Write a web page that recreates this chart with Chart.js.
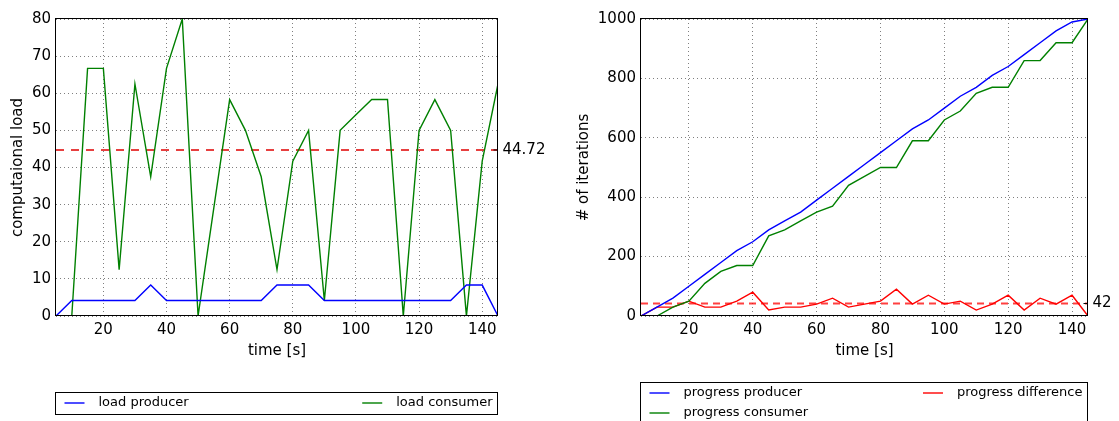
<!DOCTYPE html>
<html><head><meta charset="utf-8">
<script src="https://cdn.jsdelivr.net/npm/chart.js@4.4.0/dist/chart.umd.min.js"></script>
<style>
html,body{margin:0;padding:0;background:#fff;overflow:hidden}
#wrap{position:relative;width:1119px;height:421px;background:#fff}
canvas{position:absolute;top:0}
#c1{left:0;width:560px;height:421px}
#c2{left:560px;width:559px;height:421px}
</style></head><body>
<div id="wrap"><canvas id="c1" width="560" height="421"></canvas><canvas id="c2" width="559" height="421"></canvas></div>
<script>
// ---- data ----
const timeS = [5,10,15,20,25,30,35,40,45,50,55,60,65,70,75,80,85,90,95,100,105,110,115,120,125,130,135,140,145];
const loadProducer = [0,4.17,4.17,4.17,4.17,4.17,8.33,4.17,4.17,4.17,4.17,4.17,4.17,4.17,8.33,8.33,8.33,4.17,4.17,4.17,4.17,4.17,4.17,4.17,4.17,4.17,8.33,8.33,0];
const loadConsumer = [0,0,66.7,66.7,12.5,62.5,37.5,66.7,80,0,29.2,58.3,50,37.5,12.5,41.7,50,4.17,50,54.2,58.3,58.3,0,50,58.3,50,0,41.7,62.5];
const progressProducer = [0,30,60,100,140,180,220,250,290,320,350,390,430,470,510,550,590,630,660,700,740,770,810,840,880,920,960,990,1000];
const progressConsumer = [0,0,30,50,110,150,170,170,270,290,320,350,370,440,470,500,500,590,590,660,690,750,770,770,860,860,920,920,1000];
const progressDifference = [0,30,30,50,30,30,50,80,20,30,30,40,60,30,40,50,90,40,70,40,50,20,40,70,20,60,40,70,0];
const meanLoad = 44.72;
const meanDiff = 42;
const xTicks = [20,40,60,80,100,120,140];
const loadTicks = [0,10,20,30,40,50,60,70,80];
const iterTicks = [0,200,400,600,800,1000];
const xRange = [5,145];

const FONT = '"DejaVu Sans", "Liberation Sans", sans-serif';
Chart.defaults.font.family = FONT;
Chart.defaults.font.size = 15;
Chart.defaults.color = '#000';

const pts = (vals) => timeS.map((t,i) => ({x:t, y:vals[i]}));
const flat = (v) => [{x:xRange[0], y:v},{x:xRange[1], y:v}];

const decor = {
  id: 'decor',
  afterDatasetsDraw(chart, args, o) {
    const {ctx, chartArea:a, scales:{y}} = chart;
    ctx.save();
    ctx.strokeStyle = '#000'; ctx.lineWidth = 1;
    const l = Math.round(a.left)-0.5, t = Math.round(a.top)-0.5, r = Math.round(a.right)-0.5, b = Math.round(a.bottom)-0.5;
    ctx.strokeRect(l, t, r-l, b-t);
    const py = y.getPixelForValue(o.mean);
    ctx.beginPath(); ctx.moveTo(r-4, py); ctx.lineTo(r, py); ctx.stroke();
    ctx.fillStyle = '#000'; ctx.font = '15px ' + FONT;
    ctx.textAlign = 'left'; ctx.textBaseline = 'middle';
    ctx.fillText(o.meanLabel, r + 5, py);
    ctx.restore();
  },
  afterDraw(chart, args, o) {
    const {ctx, chartArea:a} = chart;
    const items = chart.data.datasets.filter(d => !d.isMean);
    const rows = Math.ceil(items.length/2);
    const l = Math.round(a.left)-0.5, r = Math.round(a.right)-0.5;
    const top = o.legendTop;
    ctx.save();
    ctx.strokeStyle = '#000'; ctx.lineWidth = 1;
    ctx.strokeRect(l, top, r-l, rows*20 + 2);
    ctx.font = '13px ' + FONT; ctx.textBaseline = 'middle'; ctx.textAlign = 'left';
    items.forEach((d,i) => {
      const col = Math.floor(i/rows), row = i % rows;
      const yy = top + 10.5 + row*20;
      let tx;
      if (col === 0) tx = l + 43;
      else tx = r - 5 - ctx.measureText(d.label).width;
      ctx.strokeStyle = d.borderColor; ctx.lineWidth = 1.4;
      ctx.beginPath(); ctx.moveTo(tx-34, yy); ctx.lineTo(tx-14, yy); ctx.stroke();
      ctx.fillStyle = '#000';
      ctx.fillText(d.label, tx, yy);
    });
    ctx.restore();
  }
};

function makeChart(id, datasets, yTicks, yMax, yTitle, yWidth, yTitlePad, padRight, mean, meanLabel, legendTop) {
  return new Chart(document.getElementById(id), {
    type: 'line',
    data: { datasets },
    plugins: [decor],
    options: {
      responsive: false, animation: false, devicePixelRatio: 1,
      layout: { padding: { top: 19, right: padRight, bottom: 61, left: 0 } },
      elements: { point: { radius: 0 }, line: { tension: 0, borderWidth: 1.4 } },
      plugins: { legend: { display: false }, tooltip: { enabled: false },
        decor: { mean, meanLabel, legendTop } },
      scales: {
        x: {
          type: 'linear', min: xRange[0], max: xRange[1],
          afterBuildTicks: s => { s.ticks = xTicks.map(v => ({value: v})); },
          ticks: { autoSkip: false, maxRotation: 0, padding: 5, font: { size: 15 }, callback: v => String(v) },
          grid: { color: 'rgba(0,0,0,0.5)', lineWidth: 1, drawTicks: false },
          border: { display: false, dash: [1,3] },
          title: { display: true, text: 'time [s]', font: { size: 15 }, padding: { top: -2, bottom: 0 } }
        },
        y: {
          type: 'linear', min: 0, max: yMax,
          afterBuildTicks: s => { s.ticks = yTicks.map(v => ({value: v})); },
          afterFit: s => { s.width = yWidth; },
          ticks: { autoSkip: false, padding: 5, font: { size: 15 }, callback: v => String(v) },
          grid: { color: 'rgba(0,0,0,0.5)', lineWidth: 1, drawTicks: false },
          border: { display: false, dash: [1,3] },
          title: { display: true, text: yTitle, font: { size: 15 }, padding: { top: yTitlePad, bottom: 0 } }
        }
      }
    }
  });
}

makeChart('c1', [
  { label: 'load producer', data: pts(loadProducer), borderColor: '#0000ff' },
  { label: 'load consumer', data: pts(loadConsumer), borderColor: '#008000' },
  { label: 'mean', isMean: true, data: flat(meanLoad), borderColor: '#e00000', borderWidth: 1.5, borderDash: [8,7] }
], loadTicks, 80, 'computaional load', 56, 9.5, 62, meanLoad, '44.72', 392.5);

makeChart('c2', [
  { label: 'progress producer', data: pts(progressProducer), borderColor: '#0000ff' },
  { label: 'progress consumer', data: pts(progressConsumer), borderColor: '#008000' },
  { label: 'progress difference', data: pts(progressDifference), borderColor: '#ff0000' },
  { label: 'mean', isMean: true, data: flat(meanDiff), borderColor: 'rgba(255,0,0,0.75)', borderWidth: 2, borderDash: [7,5] }
], iterTicks, 1000, '# of iterations', 81, 15, 31, meanDiff, '42', 382.5);
</script>
</body></html>
